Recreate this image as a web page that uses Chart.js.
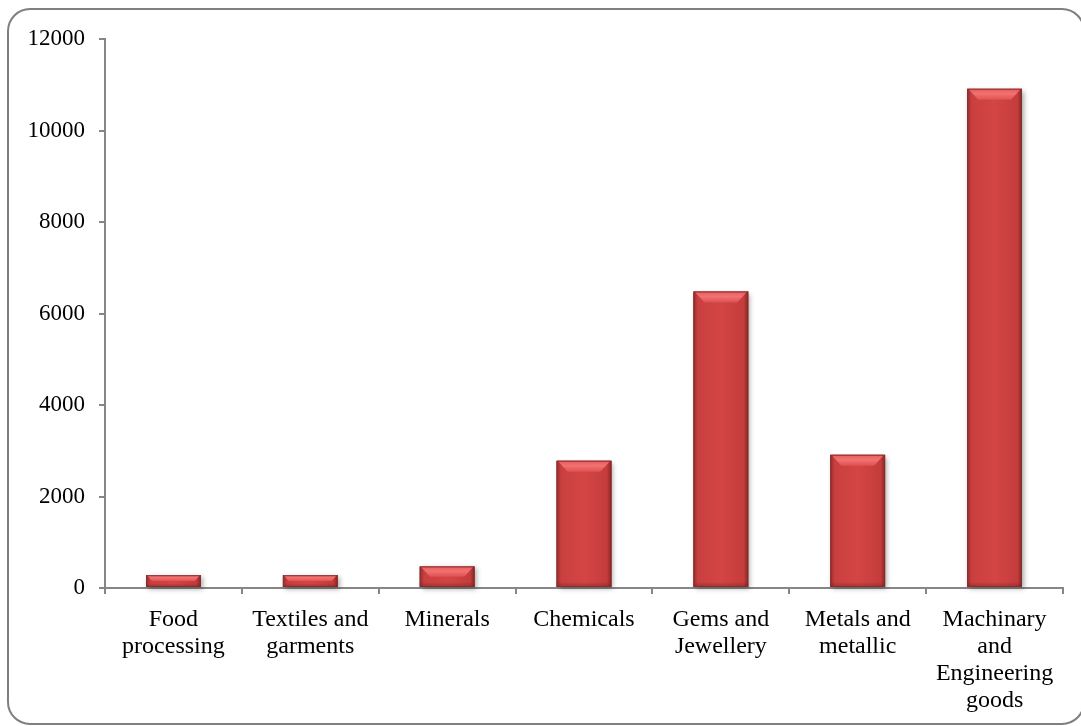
<!DOCTYPE html>
<html>
<head>
<meta charset="utf-8">
<script src="https://cdn.jsdelivr.net/npm/chart.js@4/dist/chart.umd.min.js"></script>
<style>
  html, body { margin: 0; padding: 0; background: #ffffff; }
  #wrap { width: 1081px; height: 726px; position: relative; }
</style>
</head>
<body>
<div id="wrap"><canvas id="c" width="1081" height="726"></canvas></div>
<script>
const categories = [
  ["Food", "processing"],
  ["Textiles and", "garments"],
  ["Minerals"],
  ["Chemicals"],
  ["Gems and", "Jewellery"],
  ["Metals and", "metallic"],
  ["Machinary", "and", "Engineering", "goods"]
];
const values = [280, 280, 470, 2780, 6480, 2910, 10910];
const yTicks = [0, 2000, 4000, 6000, 8000, 10000, 12000];

const FONT = "'Liberation Serif', 'Times New Roman', serif";

const frame = {
  id: 'frame',
  beforeDraw(chart) {
    const ctx = chart.ctx;
    ctx.save();
    ctx.fillStyle = '#ffffff';
    ctx.fillRect(0, 0, chart.width, chart.height);
    ctx.strokeStyle = '#7f7f7f';
    ctx.lineWidth = 2;
    const x = 8, y = 9, w = 1076, h = 715, r = 22;
    ctx.beginPath();
    ctx.moveTo(x + r, y);
    ctx.lineTo(x + w - r, y);
    ctx.arcTo(x + w, y, x + w, y + r, r);
    ctx.lineTo(x + w, y + h - r);
    ctx.arcTo(x + w, y + h, x + w - r, y + h, r);
    ctx.lineTo(x + r, y + h);
    ctx.arcTo(x, y + h, x, y + h - r, r);
    ctx.lineTo(x, y + r);
    ctx.arcTo(x, y, x + r, y, r);
    ctx.closePath();
    ctx.stroke();
    ctx.restore();
  }
};

const bevel = {
  id: 'bevel',
  beforeDatasetsDraw(chart) {
    const ctx = chart.ctx;
    const meta = chart.getDatasetMeta(0);
    ctx.save();
    meta.data.forEach(el => {
      const p = el.getProps(['x', 'y', 'base', 'width'], true);
      const l = p.x - p.width / 2;
      ctx.shadowColor = 'rgba(0,0,0,0.35)';
      ctx.shadowBlur = 5;
      ctx.shadowOffsetX = 2;
      ctx.shadowOffsetY = 2;
      ctx.fillStyle = '#b03030';
      ctx.fillRect(l, p.y, p.width, p.base - p.y);
    });
    ctx.restore();
  },
  afterDatasetsDraw(chart) {
    const ctx = chart.ctx;
    const meta = chart.getDatasetMeta(0);
    ctx.save();
    meta.data.forEach(el => {
      const p = el.getProps(['x', 'y', 'base', 'width'], true);
      const l = p.x - p.width / 2, r = p.x + p.width / 2;
      const t = p.y, b = p.base;
      const h = b - t;
      const g = ctx.createLinearGradient(l, 0, r, 0);
      g.addColorStop(0, '#992c2c');
      g.addColorStop(0.08, '#c93f3f');
      g.addColorStop(0.5, '#d44545');
      g.addColorStop(0.92, '#c43c3c');
      g.addColorStop(1, '#8a2424');
      ctx.fillStyle = g;
      ctx.fillRect(l, t, p.width, h);
      const bv = Math.min(11, h / 2);
      const tg = ctx.createLinearGradient(0, t, 0, t + bv);
      tg.addColorStop(0, '#e65c5c');
      tg.addColorStop(0.45, '#f27272');
      tg.addColorStop(1, '#de5050');
      ctx.fillStyle = tg;
      ctx.beginPath();
      ctx.moveTo(l + 1, t);
      ctx.lineTo(r - 1, t);
      ctx.lineTo(r - bv, t + bv);
      ctx.lineTo(l + bv, t + bv);
      ctx.closePath();
      ctx.fill();
      const bh = Math.min(5, h / 3);
      const bg = ctx.createLinearGradient(0, b - bh, 0, b);
      bg.addColorStop(0, 'rgba(120,20,20,0)');
      bg.addColorStop(1, 'rgba(120,20,20,0.45)');
      ctx.fillStyle = bg;
      ctx.fillRect(l, b - bh, p.width, bh);
      ctx.strokeStyle = 'rgba(120,50,50,0.8)';
      ctx.lineWidth = 1;
      ctx.strokeRect(l + 0.5, t + 0.5, p.width - 1, h - 1);
    });
    ctx.restore();
  }
};

new Chart(document.getElementById('c'), {
  type: 'bar',
  data: {
    labels: categories,
    datasets: [{
      data: values,
      backgroundColor: '#d24444',
      borderWidth: 0,
      barPercentage: 0.4,
      categoryPercentage: 1.0
    }]
  },
  options: {
    responsive: false,
    animation: false,
    devicePixelRatio: 1,
    layout: { padding: { left: 0, right: 18, top: 39, bottom: 0 } },
    plugins: {
      legend: { display: false },
      tooltip: { enabled: false }
    },
    scales: {
      x: {
        offset: true,
        grid: {
          offset: true,
          drawOnChartArea: false,
          drawTicks: true,
          tickLength: 6,
          color: '#868686',
          lineWidth: 2
        },
        border: { display: true, color: '#868686', width: 2 },
        ticks: {
          color: '#000000',
          font: { family: FONT, size: 24, lineHeight: 1.13 },
          padding: 12,
          maxRotation: 0,
          autoSkip: false
        },
        afterFit(scale) { scale.height = 726 - 588; }
      },
      y: {
        min: 0,
        max: 12000,
        afterBuildTicks(scale) { scale.ticks = yTicks.map(v => ({ value: v })); },
        grid: {
          drawOnChartArea: false,
          drawTicks: true,
          tickLength: 6,
          color: '#868686',
          lineWidth: 2
        },
        border: { display: true, color: '#868686', width: 2 },
        ticks: {
          color: '#000000',
          font: { family: FONT, size: 23 },
          padding: 14,
          callback: v => String(v)
        },
        afterFit(scale) { scale.width = 105; }
      }
    }
  },
  plugins: [frame, bevel]
});
</script>
</body>
</html>
